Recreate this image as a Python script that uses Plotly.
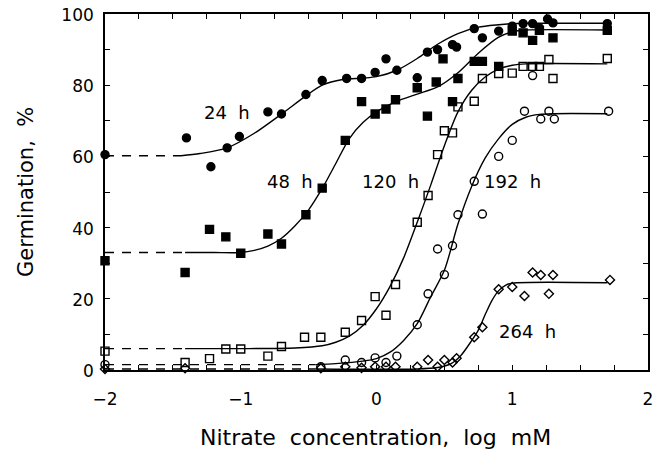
import plotly.graph_objects as go

# ---------------- data ----------------
# 24 h (filled circles)
x24 = [-2.0, -1.40, -1.22, -1.10, -1.01, -0.80, -0.70, -0.52, -0.40, -0.22, -0.11, -0.01,
       0.07, 0.15, 0.30, 0.375, 0.45, 0.56, 0.59, 0.72, 0.78, 0.90, 1.00, 1.08, 1.15,
       1.20, 1.26, 1.30, 1.70]
y24 = [60.5, 65.2, 57.1, 62.4, 65.6, 72.5, 71.9, 77.4, 81.3, 81.9, 81.9, 83.6,
       87.4, 84.2, 82.1, 89.3, 90.0, 91.4, 90.7, 95.9, 93.3, 95.2, 96.6, 97.3, 97.3,
       96.1, 98.6, 97.5, 97.3]
c24x = [-1.44, -1.3, -1.1, -0.9, -0.7, -0.52, -0.4, -0.25, -0.1, 0.0, 0.15, 0.3, 0.45,
        0.6, 0.75, 0.9, 1.0, 1.1, 1.7]
c24y = [60.2, 60.8, 62.4, 66.5, 71.9, 77.0, 80.0, 81.6, 82.0, 82.4, 84.2, 87.5, 91.5,
        94.5, 96.3, 97.0, 97.3, 97.4, 97.4]
d24x = [-2.0, -1.44]
d24y = [60.2, 60.2]

# 48 h (filled squares)
x48 = [-2.0, -1.41, -1.23, -1.11, -1.00, -0.80, -0.70, -0.52, -0.40, -0.23, -0.11, -0.01,
       0.07, 0.14, 0.30, 0.375, 0.44, 0.49, 0.56, 0.60, 0.72, 0.78, 0.90, 1.00, 1.08,
       1.15, 1.20, 1.30, 1.70]
y48 = [30.7, 27.4, 39.5, 37.4, 32.8, 38.2, 35.4, 43.6, 51.1, 64.5, 75.4, 71.9,
       73.3, 75.9, 79.3, 71.3, 80.9, 87.4, 75.4, 81.9, 86.7, 86.7, 85.3, 95.2, 94.7,
       92.6, 95.4, 93.3, 95.4]
c48x = [-1.41, -1.2, -1.0, -0.9, -0.8, -0.7, -0.6, -0.5, -0.4, -0.3, -0.2, -0.1, 0.0,
        0.15, 0.3, 0.45, 0.6, 0.75, 0.9, 1.0, 1.1, 1.7]
c48y = [33.0, 33.0, 33.0, 33.6, 34.8, 37.0, 40.5, 45.0, 51.0, 58.0, 65.0, 69.5, 72.5,
        75.5, 77.5, 79.5, 83.5, 89.0, 93.5, 95.0, 95.5, 95.5]
d48x = [-2.0, -1.41]
d48y = [33.0, 33.0]

# 120 h (open squares)
x120 = [-2.0, -1.41, -1.23, -1.11, -1.00, -0.80, -0.70, -0.53, -0.41, -0.23, -0.11, -0.01,
        0.07, 0.14, 0.30, 0.38, 0.45, 0.50, 0.56, 0.60, 0.72, 0.78, 0.90, 1.00, 1.08,
        1.15, 1.20, 1.27, 1.30, 1.70]
y120 = [5.3, 2.1, 3.2, 5.9, 5.9, 3.9, 6.6, 9.2, 9.2, 10.6, 13.9, 20.6,
        15.4, 24.0, 41.5, 49.0, 60.5, 67.2, 66.6, 73.9, 75.5, 81.9, 83.3, 83.4, 85.3,
        85.3, 85.3, 87.2, 81.9, 87.5]
c120x = [-1.41, -1.0, -0.6, -0.4, -0.3, -0.2, -0.1, 0.0, 0.1, 0.2, 0.3, 0.4, 0.5, 0.6,
         0.7, 0.8, 0.9, 1.0, 1.1, 1.7]
c120y = [6.0, 6.0, 6.2, 6.8, 7.8, 9.5, 12.5, 17.2, 23.5, 31.5, 41.5, 52.0, 63.0, 72.5,
         78.5, 82.3, 84.5, 85.6, 86.0, 86.0]
d120x = [-2.0, -1.41]
d120y = [6.0, 6.0]

# 192 h (open circles)
x192 = [-2.0, -0.41, -0.23, -0.11, -0.01, 0.07, 0.15, 0.30, 0.38, 0.45, 0.50, 0.56,
        0.60, 0.72, 0.78, 0.90, 1.00, 1.09, 1.15, 1.21, 1.27, 1.31, 1.71]
y192 = [1.5, 0.9, 2.8, 2.1, 3.4, 2.1, 3.9, 12.7, 21.4, 34.0, 26.8, 34.9,
        43.6, 53.0, 43.8, 60.0, 64.5, 72.7, 82.7, 70.5, 72.7, 70.5, 72.7]
c192x = [-0.45, -0.3, -0.1, 0.0, 0.1, 0.2, 0.3, 0.4, 0.5, 0.6, 0.7, 0.8, 0.9, 1.0,
         1.1, 1.2, 1.3, 1.7]
c192y = [1.5, 1.8, 2.5, 3.2, 5.0, 8.3, 13.0, 20.6, 28.0, 41.0, 51.5, 59.5, 65.0, 69.0,
         71.0, 71.8, 72.0, 72.0]
d192x = [-2.0, -0.45]
d192y = [1.5, 1.5]

# 264 h (open diamonds)
x264 = [-2.0, -1.41, -0.41, -0.23, -0.11, -0.01, 0.07, 0.14, 0.30, 0.38, 0.45, 0.50,
        0.56, 0.59, 0.72, 0.78, 0.90, 1.00, 1.09, 1.15, 1.21, 1.27, 1.30, 1.72]
y264 = [0.3, 0.5, 0.5, 0.9, 0.6, 0.9, 0.9, 0.9, 0.9, 2.8, 0.9, 2.8,
        2.1, 3.3, 9.2, 12.0, 22.7, 23.3, 20.8, 27.4, 26.7, 21.4, 26.7, 25.3]
c264x = [-0.45, 0.3, 0.45, 0.55, 0.62, 0.7, 0.75, 0.8, 0.85, 0.9, 0.95, 1.0, 1.7]
c264y = [0.3, 0.3, 0.7, 1.8, 4.0, 8.2, 11.2, 15.5, 19.5, 22.3, 23.8, 24.4, 24.5]
d264x = [-2.0, -0.45]
d264y = [0.3, 0.3]

labels = ["24  h", "48  h", "120  h", "192  h", "264  h"]
label_x = [-1.10, -0.64, 0.10, 1.00, 1.11]
label_y = [72.3, 53.0, 53.0, 53.0, 10.8]

x_range = [-2, 2]
y_range = [0, 100]

# ---------------- figure ----------------
fig = go.Figure()
black = "black"
FONT = "DejaVu Sans"

series = [
    (x24, y24, c24x, c24y, d24x, d24y, "circle", black, 8),
    (x48, y48, c48x, c48y, d48x, d48y, "square", black, 8),
    (x120, y120, c120x, c120y, d120x, d120y, "square-open", black, 8),
    (x192, y192, c192x, c192y, d192x, d192y, "circle-open", black, 8),
    (x264, y264, c264x, c264y, d264x, d264y, "diamond-open", black, 7),
]

for xs, ys, cx, cy, dx, dy, sym, col, sz in series:
    fig.add_trace(go.Scatter(x=dx, y=dy, mode="lines",
                             line=dict(color=black, width=1.4, dash="9px,8px"),
                             showlegend=False, hoverinfo="skip"))
    fig.add_trace(go.Scatter(x=cx, y=cy, mode="lines",
                             line=dict(color=black, width=1.4, shape="spline", smoothing=0.8),
                             showlegend=False, hoverinfo="skip"))
    fig.add_trace(go.Scatter(x=xs, y=ys, mode="markers", cliponaxis=False,
                             marker=dict(symbol=sym, size=sz, color=col,
                                         line=dict(color=black, width=1.4)),
                             showlegend=False))

for t, lx, ly in zip(labels, label_x, label_y):
    fig.add_annotation(x=lx, y=ly, xref="x", yref="y", text=t, showarrow=False,
                       font=dict(family=FONT, size=18, color=black))

fig.add_annotation(x=0.499, y=-0.19, xref="paper", yref="paper",
                   text="Nitrate  concentration,  log  mM", showarrow=False,
                   font=dict(family=FONT, size=22, color=black),
                   xanchor="center", yanchor="middle")
fig.add_annotation(x=-0.1455, y=0.5, xref="paper", yref="paper",
                   text="Germination,  %", showarrow=False, textangle=-90,
                   font=dict(family=FONT, size=21, color=black),
                   xanchor="center", yanchor="middle")

axis_common = dict(showline=True, linecolor=black, linewidth=1.6, mirror="allticks",
                   ticks="inside", tickcolor=black, ticklen=5, tickwidth=1.3,
                   showgrid=False, zeroline=False, automargin=False,
                   ticklabeloverflow="allow",
                   tickfont=dict(family=FONT, size=17, color=black))

fig.update_xaxes(range=x_range, tickmode="linear", tick0=-2, dtick=1, ticklabelstandoff=13,
                 minor=dict(tickmode="linear", dtick=0.25, ticks="inside", ticklen=5,
                            tickcolor=black, tickwidth=1.3, showgrid=False),
                 **axis_common)
fig.update_yaxes(range=y_range, tickmode="linear", tick0=0, dtick=20, ticklabelstandoff=6,
                 ticklabelshift=1,
                 minor=dict(tickmode="linear", dtick=10, ticks="inside", ticklen=5,
                            tickcolor=black, tickwidth=1.3, showgrid=False),
                 **axis_common)

fig.update_layout(template="simple_white", width=662, height=453,
                  margin=dict(l=105, r=14, t=14, b=83, autoexpand=False),
                  plot_bgcolor="white", paper_bgcolor="white", showlegend=False)

# remove the default 8 px body margin so the figure fills the window exactly
fig.write_html("out.html", config={"displayModeBar": False},
               post_script="document.body.style.margin='0';")
